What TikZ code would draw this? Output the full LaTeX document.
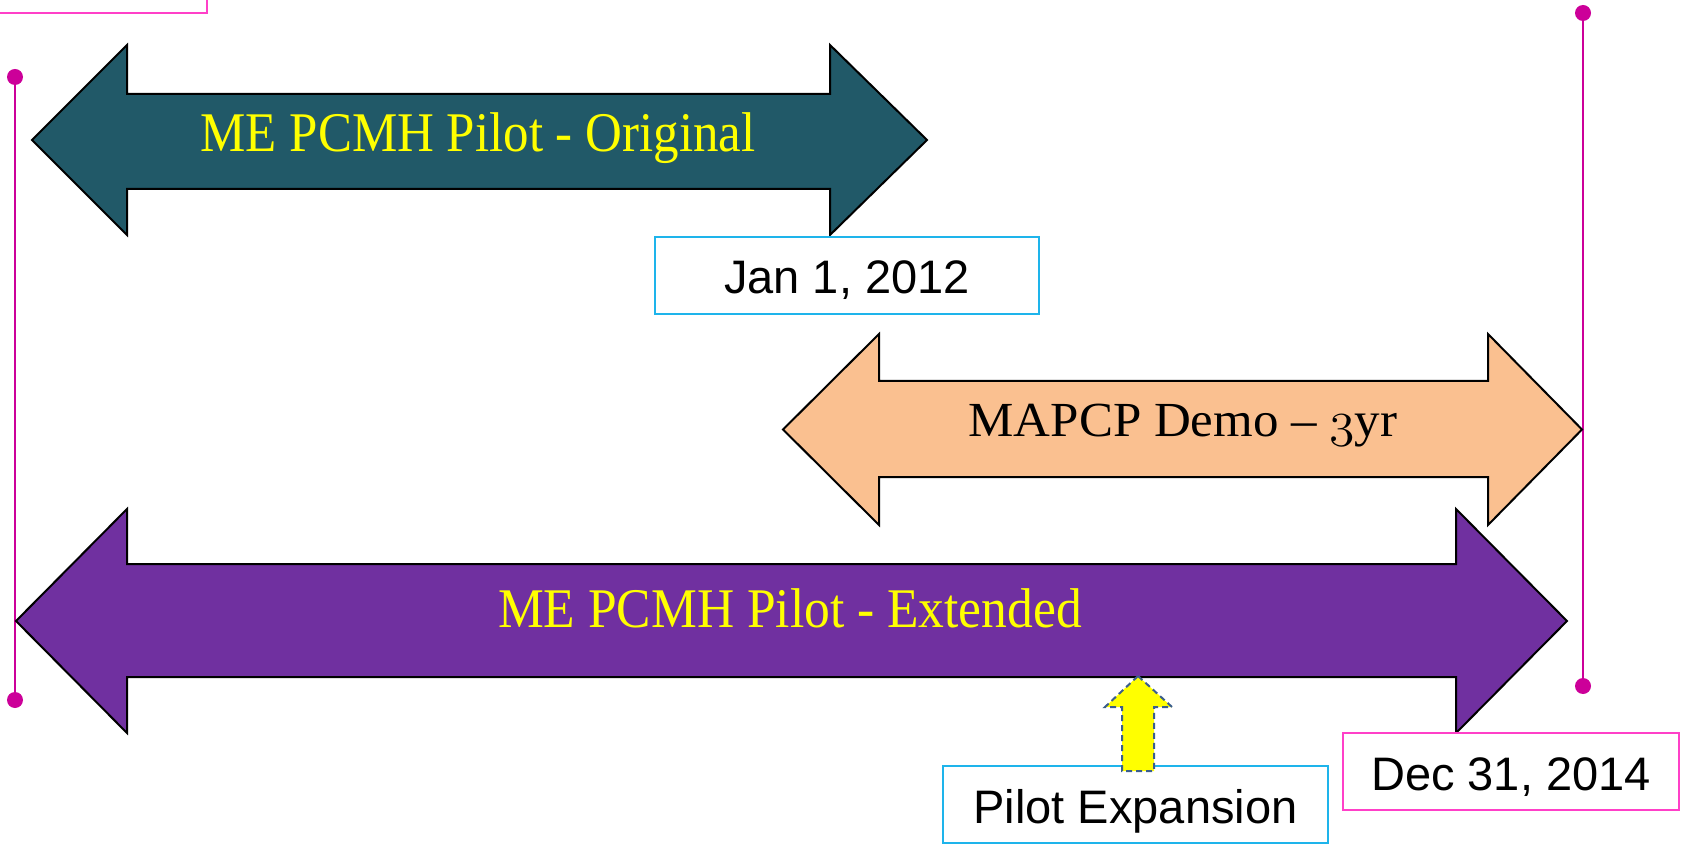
\documentclass[tikz,border=0pt]{standalone}
\usepackage{fontspec}
\setmainfont{Liberation Serif}
\newfontfamily\sansf{Liberation Sans}
\definecolor{tealA}{RGB}{33,89,104}
\definecolor{orangeA}{RGB}{250,192,144}
\definecolor{purpleA}{RGB}{112,48,160}
\definecolor{yellowA}{RGB}{255,255,0}
\definecolor{pinkLine}{RGB}{204,0,153}
\definecolor{pinkBox}{RGB}{255,64,200}
\definecolor{cyanBox}{RGB}{30,180,235}
\definecolor{dashBlue}{RGB}{59,94,140}
\newcommand{\osthree}{{\fontencoding{OML}\fontfamily{cmm}\fontshape{it}\selectfont 3}}
\tikzset{
  bigarrow/.style={draw=black, line width=1pt, line join=miter},
  arrowtext/.style={anchor=base, inner sep=0pt, font=\fontsize{28}{33}\selectfont},
  datebox/.style={draw=#1, line width=1pt, fill=white},
  datetext/.style={anchor=base, inner sep=0pt, font=\sansf\fontsize{23.5}{28}\selectfont},
  marker/.style={draw=pinkLine, line width=1.3pt},
  markerdot/.style={fill=pinkLine, draw=none},
}
\begin{document}
\begin{tikzpicture}[x=0.5pt,y=-0.5pt]
\useasboundingbox (0,0) rectangle (1691,844);
% partial pink box top-left
\draw[datebox=pinkBox] (-20,-20) rectangle (207,13);
% timeline markers
\coordinate (lt) at (15,77);
\coordinate (lb) at (15,700);
\coordinate (rt) at (1583,13);
\coordinate (rb) at (1583,686);
\draw[marker] (lt) -- (lb);
\draw[marker] (rt) -- (rb);
\fill[markerdot] (lt) circle (8);
\fill[markerdot] (lb) circle (8);
\fill[markerdot] (rt) circle (8);
\fill[markerdot] (rb) circle (8);
% teal arrow
\draw[bigarrow, fill=tealA] (32,140) -- (127,45) -- (127,94) -- (830,94) -- (830,45) -- (927,140) -- (830,235) -- (830,189) -- (127,189) -- (127,235) -- cycle;
\node[arrowtext, text=yellowA] (orig) at (478,152) {\scalebox{0.91}[1]{ME PCMH Pilot - Original}};
% orange arrow
\draw[bigarrow, fill=orangeA] (783,429.5) -- (879,334) -- (879,381) -- (1488,381) -- (1488,334) -- (1582,429.5) -- (1488,525) -- (1488,477) -- (879,477) -- (879,525) -- cycle;
\node[arrowtext, text=black, font=\fontsize{24.5}{29}\selectfont] (demo) at (1183,437) {\scalebox{1.04}[1]{MAPCP Demo -- \osthree yr}};
% purple arrow
\draw[bigarrow, fill=purpleA] (16,621) -- (127,509) -- (127,564) -- (1456,564) -- (1456,509) -- (1567,621) -- (1456,733) -- (1456,677) -- (127,677) -- (127,733) -- cycle;
\node[arrowtext, text=yellowA] (ext) at (790,627) {\scalebox{0.92}[1]{ME PCMH Pilot - Extended}};
% date boxes
\draw[datebox=cyanBox] (655,237) rectangle (1039,314);
\node[datetext] (jan) at (847,294) {Jan 1, 2012};
\draw[datebox=pinkBox] (1343,733) rectangle (1679,810);
\node[datetext] (dec) at (1511,790) {Dec 31, 2014};
\draw[datebox=cyanBox] (943,766) rectangle (1328,843);
\node[datetext] (pilot) at (1135.5,823) {Pilot Expansion};
% yellow up arrow
\draw[fill=yellowA, draw=dashBlue, line width=1pt, dash pattern=on 3pt off 2pt, line join=miter] (1138,676) -- (1172,707) -- (1154,707) -- (1154,771) -- (1122,771) -- (1122,707) -- (1105,707) -- cycle;
\end{tikzpicture}
\end{document}
